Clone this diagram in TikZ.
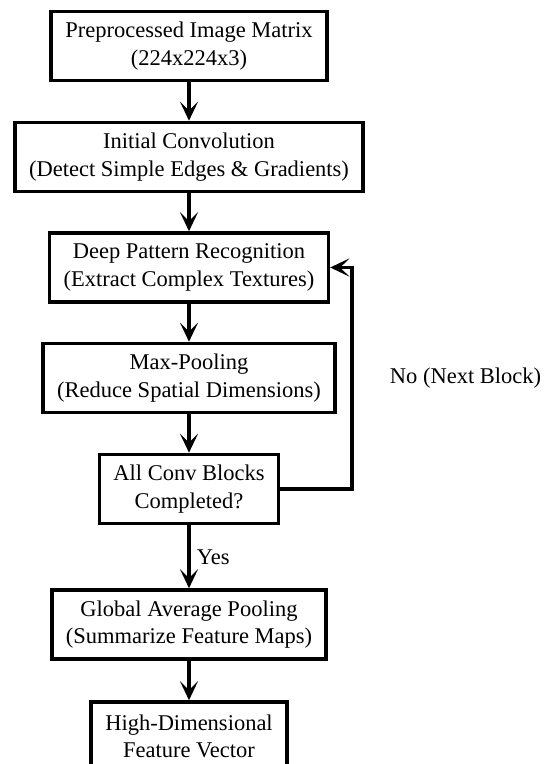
\documentclass[tikz,border=0pt]{standalone}
\usepackage{fontspec}
\setmainfont{Liberation Serif}
\usetikzlibrary{arrows.meta,positioning}

\begin{document}
\begin{tikzpicture}[x=1pt, y=-1pt, line width=3.6pt, >={Stealth[length=19pt,width=18pt,inset=9pt]},
  step box/.style={rectangle,draw,align=center,inner xsep=14pt,minimum height=69pt,font=\fontsize{22.5}{27.5}\selectfont},
  side label/.style={font=\fontsize{22.5}{27.5}\selectfont,inner sep=0pt}]
\useasboundingbox (0,0) rectangle (545,764);
\clip (0,0) rectangle (545,764);
\begin{scope}[every node/.style={step box}]
\node (input) at (189,46) {Preprocessed Image Matrix\\(224x224x3)};
\node (conv) at (189,157) {Initial Convolution\\(Detect Simple Edges \& Gradients)};
\node (deep) at (189,267.5) {Deep Pattern Recognition\\(Extract Complex Textures)};
\node (pool) at (189,378) {Max-Pooling\\(Reduce Spatial Dimensions)};
\node (check) at (189,489) {All Conv Blocks\\Completed?};
\node (gap) at (189,624.5) {Global Average Pooling\\(Summarize Feature Maps)};
\node (vec) at (189,736.5) {High-Dimensional\\Feature Vector};
\end{scope}
\coordinate (loop) at (352,0);
\node[side label,anchor=east] (no) at (543,378) {No (Next Block)};
\begin{scope}[every edge/.style={draw=black,line width=3.6pt}]
\draw[->] (input) edge (conv);
\draw[->] (conv) edge (deep);
\draw[->] (deep) edge (pool);
\draw[->] (pool) edge (check);
\draw[->] (check) edge node[side label,anchor=west,xshift=6pt]{Yes} (gap);
\draw[->] (gap) edge (vec);
%loop back
\draw[->] (check.east) -| (loop |- deep.east) -- (deep.east);
\end{scope}
\end{tikzpicture}
\end{document}
